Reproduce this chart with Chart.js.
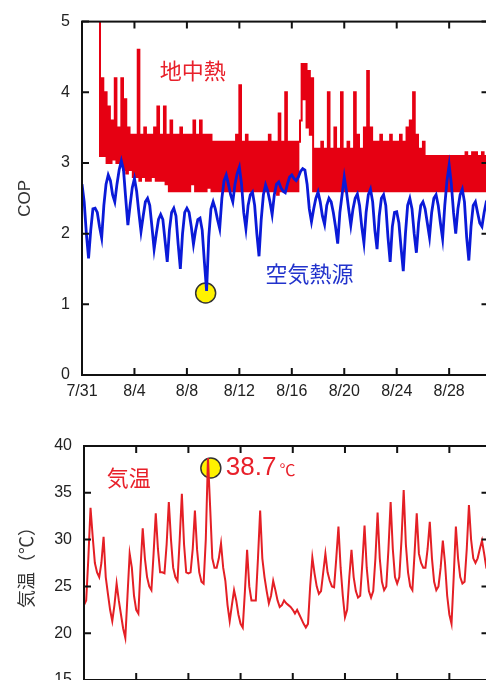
<!DOCTYPE html>
<html>
<head>
<meta charset="utf-8">
<script src="https://cdn.jsdelivr.net/npm/chart.js@4/dist/chart.umd.min.js"></script>
<style>
  html, body { margin:0; padding:0; background:#fff; overflow:hidden; width:486px; height:680px; }
  #c1 { position:absolute; left:0; top:0; }
  #c2 { position:absolute; left:0; top:420px; }
</style>
</head>
<body>
<canvas id="c1" width="500" height="400"></canvas>
<canvas id="c2" width="500" height="300"></canvas>
<script>
// ---------- DATA ----------
// x axis: days since 7/31 00:00
const xTickLabels = ['7/31','8/4','8/8','8/12','8/16','8/20','8/24','8/28'];
const copTicks = [0,1,2,3,4,5];
const tempTicks = [15,20,25,30,35,40];

// 地中熱 COP, sampled every 3 hours (8 per day), from 7/31 00:00
const groundCOP = [
  null,null,null,null,null,null,null,null,
  null,null,5.3,3.1,4.2,3.1,4.0,3.0,
  3.8,3.0,3.6,3.05,4.2,3.0,3.5,3.0,
  4.2,2.9,3.9,2.85,3.5,2.9,3.4,2.8,
  3.4,2.8,4.6,2.75,3.4,2.8,3.5,2.75,
  3.4,2.75,3.4,2.8,3.5,2.75,3.8,2.75,
  3.4,2.75,3.8,2.7,3.4,2.6,3.6,2.6,
  3.4,2.6,3.4,2.6,3.5,2.6,3.4,2.6,
  3.4,2.6,3.4,2.7,3.6,2.6,3.4,2.6,
  3.6,2.6,3.4,2.6,3.4,2.65,3.4,2.6,
  3.3,2.6,3.3,2.6,3.3,2.6,3.3,2.6,
  3.3,2.6,3.3,2.6,3.3,2.6,3.4,2.6,
  4.1,2.6,3.3,2.6,3.4,2.6,3.3,2.6,
  3.3,2.6,3.3,2.6,3.3,2.6,3.3,2.6,
  3.3,2.6,3.4,2.6,3.3,2.6,3.3,2.55,
  3.7,2.6,3.3,2.6,4.0,2.6,3.3,2.6,
  3.3,2.6,3.3,2.6,3.3,3.6,4.4,3.9,
  4.4,3.5,4.3,3.4,4.2,2.6,3.2,2.6,
  3.2,2.6,3.3,2.6,3.2,2.6,4.0,2.6,
  3.2,2.6,3.5,2.6,3.2,2.6,4.0,2.6,
  3.2,2.6,3.3,2.6,3.2,2.6,4.0,2.6,
  3.4,2.6,3.2,2.6,3.5,2.6,4.3,2.6,
  3.5,2.6,3.3,2.6,3.3,2.6,3.4,2.6,
  3.3,2.6,3.3,2.6,3.4,2.6,3.3,2.6,
  3.3,2.6,3.4,2.6,3.3,2.6,3.5,2.6,
  3.6,2.6,4.0,2.6,3.4,2.6,3.2,2.6,
  3.3,2.6,3.1,2.6,3.1,2.6,3.1,2.6,
  3.1,2.6,3.1,2.6,3.1,2.6,3.1,2.6,
  3.1,2.6,3.1,2.6,3.1,2.6,3.1,2.6,
  3.1,2.6,3.15,2.6,3.1,2.6,3.15,2.6,
  3.15,2.6,3.1,2.6,3.15,2.6,3.1,2.6,
  3.1
];

// 空気熱源 COP, sampled every 4 hours (6 per day)
const airCOP = [
  2.70,2.45,2.00,1.65,2.05,2.35,
  2.36,2.30,2.10,1.94,2.40,2.70,
  2.83,2.75,2.55,2.45,2.70,2.90,
  3.03,2.90,2.50,2.12,2.40,2.65,
  2.78,2.60,2.30,2.03,2.25,2.45,
  2.50,2.40,2.10,1.78,2.00,2.20,
  2.27,2.20,1.90,1.60,2.05,2.30,
  2.36,2.25,1.85,1.50,2.00,2.30,
  2.36,2.30,2.10,1.85,2.05,2.20,
  2.22,2.05,1.60,1.19,1.95,2.35,
  2.45,2.35,2.20,2.07,2.50,2.75,
  2.83,2.70,2.55,2.45,2.70,2.85,
  2.94,2.70,2.30,2.07,2.40,2.55,
  2.59,2.40,2.00,1.68,2.20,2.55,
  2.69,2.60,2.45,2.27,2.55,2.70,
  2.73,2.65,2.60,2.58,2.70,2.80,
  2.83,2.78,2.75,2.80,2.88,2.92,
  2.90,2.70,2.35,2.17,2.35,2.50,
  2.59,2.45,2.25,2.13,2.40,2.50,
  2.45,2.30,2.10,1.86,2.30,2.55,
  2.80,2.60,2.35,2.12,2.35,2.50,
  2.56,2.40,2.10,1.87,2.30,2.55,
  2.63,2.45,2.05,1.78,2.25,2.50,
  2.55,2.40,1.95,1.60,2.10,2.30,
  2.31,2.15,1.80,1.47,2.00,2.40,
  2.50,2.35,2.00,1.73,2.15,2.40,
  2.45,2.35,2.15,1.95,2.30,2.50,
  2.55,2.40,2.15,1.93,2.40,2.75,
  2.97,2.70,2.30,2.00,2.35,2.55,
  2.63,2.45,1.95,1.62,2.10,2.40,
  2.45,2.30,2.15,2.10,2.30,2.45,
  2.50
];

// 気温 (°C), sampled every 4 hours (6 per day)
const airTemp = [
  23.0,23.5,28.0,33.4,30.3,27.5,
  26.5,26.0,27.5,30.3,26.0,24.2,
  22.5,21.3,23.0,25.3,23.5,22.0,
  20.5,19.5,24.0,28.5,27.0,24.0,
  22.5,22.1,27.0,31.2,28.0,26.0,
  25.0,24.6,28.5,32.8,29.0,26.5,
  26.5,26.4,29.5,34.0,30.0,27.0,
  26.0,25.6,30.0,34.9,29.5,26.5,
  26.4,26.5,29.0,33.1,28.9,26.5,
  25.5,25.3,30.0,38.7,33.5,28.0,
  27.0,27.0,28.0,29.6,27.0,25.6,
  23.0,21.3,23.0,24.6,23.5,22.0,
  21.0,20.6,24.5,28.9,25.0,23.5,
  23.5,23.5,28.0,33.1,28.0,26.0,
  24.5,23.2,24.0,25.6,24.6,23.5,
  22.8,23.0,23.5,23.2,23.0,22.8,
  22.5,22.1,22.5,22.0,21.5,21.0,
  20.6,21.0,25.0,28.1,26.4,25.0,
  24.2,24.5,26.5,28.5,26.5,25.6,
  25.0,24.9,28.0,31.4,27.0,24.0,
  21.7,22.5,26.0,28.9,26.0,24.5,
  23.8,24.0,27.5,31.5,27.0,24.5,
  23.8,24.5,28.0,32.9,28.0,25.5,
  24.6,25.0,29.0,34.0,29.0,26.0,
  25.3,26.0,30.0,35.3,29.5,26.5,
  25.0,24.6,28.5,32.8,28.5,27.5,
  27.0,27.0,29.0,31.9,28.0,25.5,
  24.6,25.0,27.0,29.9,27.5,24.0,
  22.0,21.0,26.0,31.4,28.0,26.0,
  25.3,25.5,29.0,33.7,30.0,28.0,
  27.5,28.0,29.0,29.9,28.5,27.0,
  26.5
];

// highlighted points (yellow circles)
const copMinMarker = [{x: 9.43, y: 1.16}];
const tempMaxMarker = [{x: 9.72, y: 37.65}];

// ---------- helpers ----------
const toXY = (arr, perDay) => arr.map((v, i) => ({x: i / perDay, y: v}));

const frameTicks = {
  id: 'frameTicks',
  afterDatasetsDraw(chart, args, opts) {
    const {ctx, chartArea: a, scales: {x, y}} = chart;
    ctx.save();
    ctx.strokeStyle = '#111';
    ctx.lineWidth = 2;
    ctx.strokeRect(a.left, a.top, a.right - a.left, a.bottom - a.top);
    const L = 7;
    ctx.beginPath();
    x.ticks.forEach(t => {
      const px = x.getPixelForValue(t.value);
      ctx.moveTo(px, a.bottom); ctx.lineTo(px, a.bottom - L);
      ctx.moveTo(px, a.top); ctx.lineTo(px, a.top + L);
    });
    y.ticks.forEach(t => {
      const py = y.getPixelForValue(t.value);
      ctx.moveTo(a.left, py); ctx.lineTo(a.left + L, py);
      ctx.moveTo(a.right, py); ctx.lineTo(a.right - L, py);
    });
    ctx.stroke();
    (opts.labels || []).forEach(l => {
      ctx.font = l.font;
      ctx.fillStyle = l.color;
      ctx.textAlign = l.align || 'center';
      ctx.textBaseline = 'middle';
      const px = x.getPixelForValue(l.x), py = y.getPixelForValue(l.y);
      ctx.fillText(l.text, px, py);
      if (l.suffix) {
        const w = ctx.measureText(l.text).width;
        ctx.font = l.suffixFont;
        ctx.textAlign = 'left';
        ctx.fillText(l.suffix, px + w + 3, py + 2);
      }
    });
    ctx.restore();
  }
};

const tickFont = {family: '"Liberation Sans", Arial, sans-serif', size: 16};
const jpFont = '"Noto Sans CJK JP", sans-serif';
const RED = '#e60012';
const BLUE = '#0a1ad8';

function xScale(h) {
  return {
    type: 'linear', min: 0, max: 31,
    afterFit(s) { s.height = h; },
    grid: {display: false, drawTicks: false},
    border: {display: false},
    ticks: {
      stepSize: 4, includeBounds: false, padding: 7, color: '#222', font: tickFont, maxRotation: 0,
      callback: v => xTickLabels[v / 4] ?? ''
    }
  };
}

// ---------- top chart (COP) ----------
new Chart(document.getElementById('c1'), {
  type: 'line',
  data: {
    datasets: [
      {data: toXY(airCOP, 6), borderColor: BLUE, borderWidth: 2.8, pointRadius: 0, order: 1, clip: 0},
      {data: toXY(groundCOP, 8), borderColor: RED, borderWidth: 2, pointRadius: 0, stepped: true, order: 2, clip: 0},
      {type: 'scatter', data: copMinMarker, pointRadius: 10, backgroundColor: '#fff200', borderColor: '#333', borderWidth: 1.5, order: 5}
    ]
  },
  options: {
    responsive: false, animation: false,
    layout: {padding: {top: 18, right: 10, left: 0, bottom: 0}},
    plugins: {
      legend: {display: false}, tooltip: {enabled: false},
      frameTicks: {labels: [
        {text: '地中熱', x: 8.44, y: 4.31, color: '#e8202a', font: '22px ' + jpFont},
        {text: '空気熱源', x: 17.34, y: 1.44, color: '#2233cc', font: '22px ' + jpFont}
      ]}
    },
    scales: {
      x: xScale(25),
      y: {
        min: 0, max: 5,
        afterFit(s) { s.width = 82; },
        afterBuildTicks(s) { s.ticks = copTicks.map(v => ({value: v})); },
        grid: {display: false, drawTicks: false},
        border: {display: false},
        ticks: {padding: 12, color: '#222', font: tickFont},
        title: {display: true, text: 'COP', color: '#333', font: {family: '"Liberation Sans", Arial, sans-serif', size: 17}, padding: {top: 15, bottom: 0}}
      }
    }
  },
  plugins: [frameTicks]
});

// ---------- bottom chart (temperature) ----------
new Chart(document.getElementById('c2'), {
  type: 'line',
  data: {
    datasets: [
      {data: toXY(airTemp, 6), borderColor: '#e41f25', borderWidth: 2, pointRadius: 0, order: 1, clip: 0},
      {type: 'scatter', data: tempMaxMarker, pointRadius: 10, backgroundColor: '#fff200', borderColor: '#333', borderWidth: 1.5, order: 5}
    ]
  },
  options: {
    responsive: false, animation: false,
    layout: {padding: {top: 26, right: 8, left: 0, bottom: 0}},
    plugins: {
      legend: {display: false}, tooltip: {enabled: false},
      frameTicks: {labels: [
        {text: '気温', x: 3.42, y: 36.57, color: '#e8202a', font: '22px ' + jpFont},
        {text: '38.7', x: 10.87, y: 37.64, align: 'left', color: '#e8202a', font: '26px "Liberation Sans", Arial, sans-serif', suffix: '℃', suffixFont: '16px ' + jpFont}
      ]}
    },
    scales: {
      x: xScale(40),
      y: {
        min: 15, max: 40,
        afterFit(s) { s.width = 84; },
        afterBuildTicks(s) { s.ticks = tempTicks.map(v => ({value: v})); },
        grid: {display: false, drawTicks: false},
        border: {display: false},
        ticks: {padding: 12, color: '#222', font: tickFont},
        title: {display: true, text: '気温（℃）', color: '#333', font: {family: jpFont, size: 18}, padding: {top: 15, bottom: 0}}
      }
    }
  },
  plugins: [frameTicks]
});
</script>
</body>
</html>
